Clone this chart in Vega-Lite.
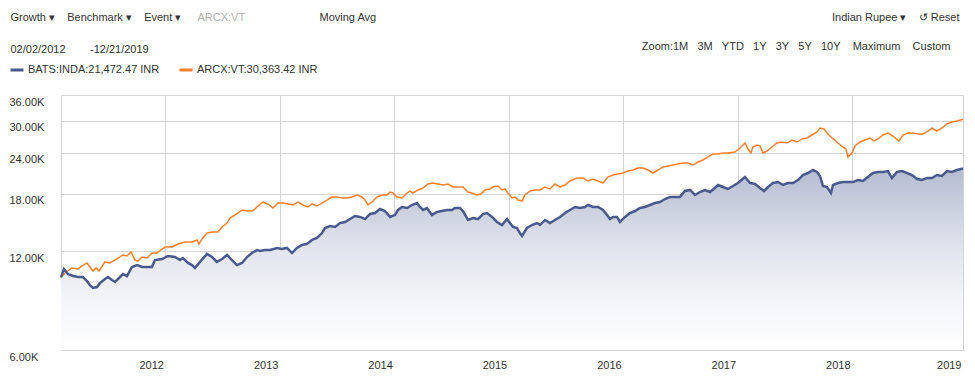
{
  "$schema": "https://vega.github.io/schema/vega-lite/v6.json",
  "width": 902,
  "height": 255,
  "autosize": {"type": "none"},
  "padding": {"left": 61, "top": 95, "right": 12, "bottom": 27},
  "background": "#ffffff",
  "config": {
    "font": "Liberation Sans",
    "view": {"stroke": null},
    "axis": {
      "labelFont": "Liberation Sans",
      "labelFontSize": 11,
      "labelColor": "#333333",
      "titleFont": "Liberation Sans",
      "titleFontSize": 11,
      "titleFontWeight": "normal",
      "titleColor": "#333333",
      "gridColor": "#d4d4d4",
      "gridWidth": 1,
      "domain": false,
      "ticks": false,
      "tickSize": 0
    },
    "legend": {
      "labelFont": "Liberation Sans",
      "labelFontSize": 11,
      "labelColor": "#333333"
    }
  },
  "datasets": {
    "inda": [
      {"t":2012.087,"v":10000},{"t":2012.113,"v":10600},{"t":2012.148,"v":10230},{"t":2012.192,"v":10090},{"t":2012.236,"v":10020},{"t":2012.279,"v":10020},{"t":2012.314,"v":9740},{"t":2012.340,"v":9470},{"t":2012.367,"v":9280},{"t":2012.402,"v":9340},{"t":2012.428,"v":9610},{"t":2012.472,"v":9880},{"t":2012.498,"v":10020},{"t":2012.533,"v":9810},{"t":2012.559,"v":9680},{"t":2012.603,"v":10020},{"t":2012.629,"v":10230},{"t":2012.664,"v":10090},{"t":2012.707,"v":10750},{"t":2012.751,"v":10900},{"t":2012.795,"v":10750},{"t":2012.839,"v":10750},{"t":2012.882,"v":10750},{"t":2012.908,"v":11290},{"t":2012.970,"v":11370},{"t":2013.022,"v":11620},{"t":2013.083,"v":11530},{"t":2013.127,"v":11290},{"t":2013.153,"v":11450},{"t":2013.197,"v":11060},{"t":2013.232,"v":10900},{"t":2013.258,"v":10680},{"t":2013.302,"v":11140},{"t":2013.363,"v":11780},{"t":2013.407,"v":11530},{"t":2013.450,"v":11140},{"t":2013.494,"v":11370},{"t":2013.538,"v":11700},{"t":2013.581,"v":11290},{"t":2013.625,"v":10900},{"t":2013.669,"v":11060},{"t":2013.713,"v":11530},{"t":2013.756,"v":11860},{"t":2013.800,"v":12110},{"t":2013.826,"v":12030},{"t":2013.870,"v":12110},{"t":2013.914,"v":12110},{"t":2013.975,"v":12290},{"t":2014.018,"v":12200},{"t":2014.062,"v":12290},{"t":2014.106,"v":11860},{"t":2014.149,"v":12290},{"t":2014.193,"v":12550},{"t":2014.237,"v":12640},{"t":2014.281,"v":13000},{"t":2014.324,"v":13180},{"t":2014.368,"v":13650},{"t":2014.394,"v":14140},{"t":2014.438,"v":14340},{"t":2014.482,"v":14240},{"t":2014.525,"v":14640},{"t":2014.569,"v":14750},{"t":2014.613,"v":15060},{"t":2014.656,"v":15380},{"t":2014.700,"v":15280},{"t":2014.744,"v":15060},{"t":2014.787,"v":15600},{"t":2014.831,"v":15710},{"t":2014.875,"v":16160},{"t":2014.918,"v":15930},{"t":2014.962,"v":15280},{"t":2015.006,"v":15490},{"t":2015.032,"v":16050},{"t":2015.067,"v":16390},{"t":2015.111,"v":16270},{"t":2015.154,"v":16620},{"t":2015.198,"v":16850},{"t":2015.224,"v":16390},{"t":2015.251,"v":16050},{"t":2015.285,"v":16270},{"t":2015.329,"v":15490},{"t":2015.373,"v":15820},{"t":2015.417,"v":15930},{"t":2015.460,"v":16050},{"t":2015.504,"v":16050},{"t":2015.530,"v":16270},{"t":2015.574,"v":16270},{"t":2015.600,"v":15930},{"t":2015.644,"v":14960},{"t":2015.688,"v":15170},{"t":2015.731,"v":15060},{"t":2015.775,"v":15600},{"t":2015.810,"v":15710},{"t":2015.854,"v":15280},{"t":2015.897,"v":14750},{"t":2015.941,"v":14440},{"t":2015.985,"v":15060},{"t":2016.011,"v":14640},{"t":2016.037,"v":14240},{"t":2016.072,"v":14140},{"t":2016.098,"v":13650},{"t":2016.116,"v":13370},{"t":2016.159,"v":14140},{"t":2016.203,"v":14440},{"t":2016.247,"v":14640},{"t":2016.273,"v":14440},{"t":2016.317,"v":14960},{"t":2016.360,"v":14640},{"t":2016.404,"v":14960},{"t":2016.448,"v":15280},{"t":2016.492,"v":15710},{"t":2016.535,"v":16050},{"t":2016.579,"v":16390},{"t":2016.623,"v":16270},{"t":2016.666,"v":16390},{"t":2016.693,"v":16620},{"t":2016.736,"v":16390},{"t":2016.780,"v":16390},{"t":2016.824,"v":16050},{"t":2016.859,"v":15490},{"t":2016.885,"v":15060},{"t":2016.911,"v":15280},{"t":2016.946,"v":15280},{"t":2016.972,"v":14750},{"t":2017.016,"v":15280},{"t":2017.060,"v":15710},{"t":2017.103,"v":15930},{"t":2017.147,"v":16270},{"t":2017.191,"v":16390},{"t":2017.234,"v":16620},{"t":2017.278,"v":16850},{"t":2017.322,"v":16970},{"t":2017.365,"v":17330},{"t":2017.409,"v":17580},{"t":2017.453,"v":17580},{"t":2017.496,"v":17580},{"t":2017.540,"v":18340},{"t":2017.584,"v":18470},{"t":2017.628,"v":17830},{"t":2017.671,"v":18210},{"t":2017.715,"v":18470},{"t":2017.759,"v":18210},{"t":2017.802,"v":18730},{"t":2017.829,"v":19130},{"t":2017.872,"v":18860},{"t":2017.916,"v":18600},{"t":2017.960,"v":18990},{"t":2018.003,"v":19400},{"t":2018.065,"v":20230},{"t":2018.108,"v":19400},{"t":2018.152,"v":19260},{"t":2018.196,"v":18730},{"t":2018.231,"v":18340},{"t":2018.266,"v":18860},{"t":2018.309,"v":19400},{"t":2018.353,"v":19530},{"t":2018.397,"v":19130},{"t":2018.440,"v":19400},{"t":2018.484,"v":19400},{"t":2018.528,"v":19810},{"t":2018.571,"v":20520},{"t":2018.615,"v":20810},{"t":2018.659,"v":21250},{"t":2018.694,"v":20960},{"t":2018.720,"v":20380},{"t":2018.746,"v":18990},{"t":2018.781,"v":18860},{"t":2018.816,"v":18080},{"t":2018.834,"v":19130},{"t":2018.877,"v":19400},{"t":2018.921,"v":19530},{"t":2018.965,"v":19530},{"t":2019.008,"v":19530},{"t":2019.052,"v":19810},{"t":2019.096,"v":19670},{"t":2019.139,"v":20230},{"t":2019.183,"v":20810},{"t":2019.227,"v":20960},{"t":2019.271,"v":20960},{"t":2019.314,"v":21100},{"t":2019.349,"v":20090},{"t":2019.393,"v":20960},{"t":2019.437,"v":21100},{"t":2019.480,"v":20810},{"t":2019.524,"v":20520},{"t":2019.568,"v":19950},{"t":2019.611,"v":19810},{"t":2019.655,"v":20090},{"t":2019.699,"v":20090},{"t":2019.742,"v":20520},{"t":2019.786,"v":20380},{"t":2019.830,"v":21100},{"t":2019.873,"v":20960},{"t":2019.917,"v":21250},{"t":2019.970,"v":21472.47}
    ],
    "vt": [
      {"t":2012.087,"v":10000},{"t":2012.122,"v":10310},{"t":2012.183,"v":10680},{"t":2012.236,"v":10600},{"t":2012.271,"v":10830},{"t":2012.314,"v":11060},{"t":2012.340,"v":10750},{"t":2012.367,"v":10450},{"t":2012.393,"v":10680},{"t":2012.419,"v":10450},{"t":2012.472,"v":11140},{"t":2012.515,"v":11060},{"t":2012.585,"v":11450},{"t":2012.629,"v":11700},{"t":2012.664,"v":11620},{"t":2012.699,"v":11950},{"t":2012.734,"v":11290},{"t":2012.760,"v":11210},{"t":2012.795,"v":11530},{"t":2012.839,"v":11450},{"t":2012.882,"v":11860},{"t":2012.926,"v":11860},{"t":2012.970,"v":12200},{"t":2012.996,"v":12370},{"t":2013.057,"v":12370},{"t":2013.110,"v":12640},{"t":2013.171,"v":12820},{"t":2013.232,"v":12820},{"t":2013.276,"v":13000},{"t":2013.293,"v":12640},{"t":2013.319,"v":13090},{"t":2013.363,"v":13650},{"t":2013.415,"v":13750},{"t":2013.459,"v":13750},{"t":2013.494,"v":14240},{"t":2013.538,"v":14640},{"t":2013.564,"v":15170},{"t":2013.608,"v":15490},{"t":2013.669,"v":16050},{"t":2013.721,"v":15930},{"t":2013.765,"v":15950},{"t":2013.809,"v":16500},{"t":2013.852,"v":16970},{"t":2013.896,"v":16740},{"t":2013.940,"v":16270},{"t":2013.983,"v":16850},{"t":2014.027,"v":16850},{"t":2014.071,"v":16740},{"t":2014.114,"v":16620},{"t":2014.158,"v":16970},{"t":2014.202,"v":16620},{"t":2014.246,"v":16390},{"t":2014.281,"v":16740},{"t":2014.324,"v":16500},{"t":2014.368,"v":16850},{"t":2014.412,"v":17210},{"t":2014.455,"v":17580},{"t":2014.499,"v":17580},{"t":2014.543,"v":17460},{"t":2014.586,"v":17460},{"t":2014.630,"v":17580},{"t":2014.674,"v":17830},{"t":2014.717,"v":17580},{"t":2014.744,"v":17210},{"t":2014.770,"v":16620},{"t":2014.805,"v":16970},{"t":2014.849,"v":17580},{"t":2014.892,"v":17830},{"t":2014.936,"v":17830},{"t":2014.962,"v":18210},{"t":2014.988,"v":18080},{"t":2015.023,"v":17580},{"t":2015.067,"v":17460},{"t":2015.111,"v":18080},{"t":2015.137,"v":18340},{"t":2015.163,"v":18080},{"t":2015.207,"v":18470},{"t":2015.251,"v":18730},{"t":2015.294,"v":19260},{"t":2015.338,"v":19400},{"t":2015.382,"v":19260},{"t":2015.425,"v":19130},{"t":2015.469,"v":19260},{"t":2015.513,"v":18860},{"t":2015.556,"v":18860},{"t":2015.600,"v":18860},{"t":2015.644,"v":18210},{"t":2015.679,"v":18080},{"t":2015.722,"v":17830},{"t":2015.757,"v":17950},{"t":2015.792,"v":18470},{"t":2015.836,"v":18600},{"t":2015.862,"v":18860},{"t":2015.906,"v":18990},{"t":2015.941,"v":18470},{"t":2015.967,"v":18600},{"t":2015.993,"v":18080},{"t":2016.028,"v":17460},{"t":2016.055,"v":17580},{"t":2016.081,"v":17210},{"t":2016.116,"v":17090},{"t":2016.142,"v":17830},{"t":2016.186,"v":18340},{"t":2016.229,"v":18470},{"t":2016.273,"v":18470},{"t":2016.317,"v":18860},{"t":2016.360,"v":18600},{"t":2016.404,"v":19260},{"t":2016.448,"v":18860},{"t":2016.492,"v":19130},{"t":2016.535,"v":19670},{"t":2016.596,"v":20090},{"t":2016.649,"v":20090},{"t":2016.693,"v":19670},{"t":2016.736,"v":19950},{"t":2016.780,"v":19670},{"t":2016.824,"v":19400},{"t":2016.867,"v":20230},{"t":2016.911,"v":20520},{"t":2016.955,"v":20660},{"t":2016.998,"v":20810},{"t":2017.042,"v":21100},{"t":2017.086,"v":21250},{"t":2017.129,"v":21550},{"t":2017.173,"v":21550},{"t":2017.217,"v":21250},{"t":2017.261,"v":20810},{"t":2017.304,"v":21250},{"t":2017.348,"v":21710},{"t":2017.392,"v":21860},{"t":2017.435,"v":22010},{"t":2017.479,"v":22170},{"t":2017.523,"v":22320},{"t":2017.566,"v":22320},{"t":2017.610,"v":22010},{"t":2017.654,"v":22480},{"t":2017.697,"v":22800},{"t":2017.741,"v":23290},{"t":2017.785,"v":23780},{"t":2017.829,"v":23780},{"t":2017.872,"v":23950},{"t":2017.916,"v":23950},{"t":2017.977,"v":24120},{"t":2018.021,"v":24810},{"t":2018.065,"v":25690},{"t":2018.091,"v":24630},{"t":2018.117,"v":23950},{"t":2018.134,"v":24980},{"t":2018.169,"v":25330},{"t":2018.196,"v":25160},{"t":2018.222,"v":23950},{"t":2018.257,"v":24290},{"t":2018.300,"v":24980},{"t":2018.344,"v":25690},{"t":2018.388,"v":25870},{"t":2018.432,"v":25690},{"t":2018.475,"v":26240},{"t":2018.519,"v":25870},{"t":2018.563,"v":26430},{"t":2018.606,"v":26610},{"t":2018.650,"v":27180},{"t":2018.694,"v":27760},{"t":2018.720,"v":28550},{"t":2018.755,"v":28350},{"t":2018.781,"v":27560},{"t":2018.825,"v":26610},{"t":2018.851,"v":26240},{"t":2018.877,"v":25690},{"t":2018.921,"v":24980},{"t":2018.947,"v":24630},{"t":2018.965,"v":23290},{"t":2019.000,"v":23950},{"t":2019.026,"v":25160},{"t":2019.070,"v":25870},{"t":2019.113,"v":26240},{"t":2019.157,"v":26610},{"t":2019.192,"v":26060},{"t":2019.227,"v":26430},{"t":2019.271,"v":27180},{"t":2019.314,"v":27560},{"t":2019.358,"v":26990},{"t":2019.410,"v":26060},{"t":2019.445,"v":27180},{"t":2019.489,"v":27560},{"t":2019.533,"v":27560},{"t":2019.576,"v":27370},{"t":2019.620,"v":27370},{"t":2019.664,"v":27950},{"t":2019.699,"v":28550},{"t":2019.742,"v":27950},{"t":2019.786,"v":28550},{"t":2019.830,"v":29360},{"t":2019.873,"v":29780},{"t":2019.917,"v":29990},{"t":2019.970,"v":30363.42}
    ]
  },
  "resolve": {"axis": {"x": "independent", "y": "independent"}},
  "layer": [
    {
      "data": {"name": "inda"},
      "mark": {
        "type": "area",
        "color": {
          "gradient": "linear",
          "x1": 0, "y1": 0, "x2": 0, "y2": 1,
          "stops": [
            {"offset": 0, "color": "#b5bcd1"},
            {"offset": 0.45, "color": "#e2e5ee"},
            {"offset": 0.72, "color": "#f3f4f8"},
            {"offset": 1, "color": "#ffffff"}
          ]
        }
      },
      "encoding": {
        "x": {
          "field": "t",
          "type": "quantitative",
          "scale": {"domain": [2012.087, 2019.97], "nice": false, "zero": false},
          "axis": {
            "orient": "bottom",
            "title": null,
            "values": [2012.087, 2013, 2014, 2015, 2016, 2017, 2018, 2019, 2019.97],
            "labelExpr": "datum.value < 2012.5 ? '' : (datum.value > 2019.5 ? '2019' : format(datum.value - 1, 'd'))",
            "labelAlign": "right",
            "labelOffset": -2,
            "labelPadding": 9,
            "labelOverlap": false,
            "labelFlush": false,
            "grid": true
          }
        },
        "y": {
          "field": "v",
          "type": "quantitative",
          "scale": {"type": "log", "domain": [6000, 36000], "nice": false},
          "axis": {
            "orient": "left",
            "values": [6000, 12000, 18000, 24000, 30000, 36000],
            "labelExpr": "format(datum.value / 1000, '.2f') + 'K'",
            "labelAlign": "left",
            "labelBaseline": "top",
            "labelPadding": 52,
            "labelOffset": 1,
            "grid": true,
            "title": ["Growth ▾\u00a0\u00a0\u00a0\u00a0Benchmark ▾\u00a0\u00a0\u00a0\u00a0Event ▾", "02/02/2012\u00a0\u00a0\u00a0\u00a0\u00a0\u00a0\u00a0\u00a0-12/21/2019"],
            "titleAngle": 0,
            "titleAlign": "left",
            "titleBaseline": "alphabetic",
            "titleX": -51,
            "titleY": -75,
            "titleLineHeight": 32
          }
        },
        "y2": {"datum": 6000}
      }
    },
    {
      "data": {"name": "vt"},
      "mark": {"type": "line", "strokeWidth": 1.5, "interpolate": "linear"},
      "encoding": {
        "x": {
          "field": "t",
          "type": "quantitative",
          "axis": {
            "orient": "top",
            "labels": false,
            "grid": false,
            "title": "Zoom:1M\u00a0\u00a0\u00a03M\u00a0\u00a0\u00a0YTD\u00a0\u00a0\u00a01Y\u00a0\u00a0\u00a03Y\u00a0\u00a0\u00a05Y\u00a0\u00a0\u00a010Y\u00a0\u00a0\u00a0\u00a0Maximum\u00a0\u00a0\u00a0\u00a0Custom",
            "titleAlign": "right",
            "titleBaseline": "alphabetic",
            "titleX": 889,
            "titleY": -46
          }
        },
        "y": {
          "field": "v",
          "type": "quantitative",
          "axis": {
            "orient": "right",
            "labels": false,
            "grid": false,
            "title": "ARCX:VT",
            "titleColor": "#b0b0b0",
            "titleAngle": 0,
            "titleAlign": "left",
            "titleBaseline": "alphabetic",
            "titleX": -766,
            "titleY": -75
          }
        },
        "color": {
          "datum": "ARCX:VT",
          "scale": {"domain": ["BATS:INDA", "ARCX:VT"], "range": ["#4a5a8c", "#ff7f2a"]},
          "legend": {
            "orient": "none",
            "legendX": -52,
            "legendY": -33,
            "direction": "horizontal",
            "title": null,
            "symbolType": "stroke",
            "symbolSize": 169,
            "symbolStrokeWidth": 3,
            "labelOffset": 3,
            "columnPadding": 13,
            "labelExpr": "datum.label == 'BATS:INDA' ? 'BATS:INDA:21,472.47 INR' : 'ARCX:VT:30,363.42 INR'"
          }
        }
      }
    },
    {
      "data": {"name": "inda"},
      "mark": {"type": "line", "strokeWidth": 2.5, "interpolate": "linear"},
      "encoding": {
        "x": {
          "field": "t",
          "type": "quantitative",
          "axis": {
            "orient": "top",
            "labels": false,
            "grid": false,
            "title": "Indian Rupee ▾\u00a0\u00a0\u00a0\u00a0↺ Reset",
            "titleAlign": "right",
            "titleBaseline": "alphabetic",
            "titleX": 898,
            "titleY": -75
          }
        },
        "y": {
          "field": "v",
          "type": "quantitative",
          "axis": {
            "orient": "right",
            "labels": false,
            "grid": false,
            "title": "Moving Avg",
            "titleAngle": 0,
            "titleAlign": "left",
            "titleBaseline": "alphabetic",
            "titleX": -644,
            "titleY": -75
          }
        },
        "color": {"datum": "BATS:INDA"}
      }
    }
  ]
}
